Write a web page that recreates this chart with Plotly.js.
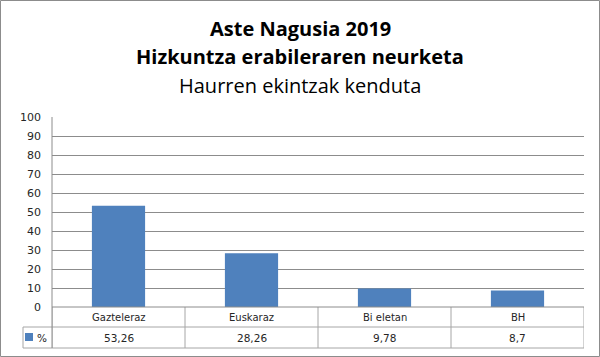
<!DOCTYPE html>
<html><head><meta charset="utf-8">
<script src="https://cdn.plot.ly/plotly-3.0.1.min.js"></script>
<style>html,body{margin:0;padding:0;background:#fff}#c{width:600px;height:357px}</style>
</head><body><div id="c"></div>
<script>
const categories = ["Gazteleraz", "Euskaraz", "Bi eletan", "BH"];
const values = [53.26, 28.26, 9.78, 8.7];
const valueLabels = ["53,26", "28,26", "9,78", "8,7"];
const seriesName = "%";
const titleLines = ["<b>Aste Nagusia 2019</b>", "<b>Hizkuntza erabileraren neurketa</b>", "Haurren ekintzak kenduta"];

const W = 600, H = 357;
const L = 52, R = 584, T = 117, B = 307;
const row1 = 327, row2 = 348, tableLeft = 23;
const lineCol = "#a6a6a6";
const font = "DejaVu Sans, Verdana, sans-serif";
const xs = categories.map((_, i) => i);

const shapes = [];
const py = y => (B - y) / (B - T), px = x => (x - L) / (R - L);
function seg(x0, y0, x1, y1, col) {
  shapes.push({type: "line", xref: "paper", yref: "paper", x0: px(x0), y0: py(y0), x1: px(x1), y1: py(y1), line: {color: col || lineCol, width: 1}});
}
// table lines
seg(tableLeft, row1, R, row1);
seg(tableLeft, row2, R, row2);
seg(tableLeft, row1, tableLeft, row2);
for (let i = 0; i <= categories.length; i++) {
  shapes.push({type: "line", xref: "x", yref: "paper", x0: i - 0.5, x1: i - 0.5, y0: py(row2), y1: py(B), line: {color: lineCol, width: 1}});
}
seg(L, T, L, row2, "#8c8c8c");
seg(L, B, R, B, "#8c8c8c");
// legend key
shapes.push({type: "rect", xref: "paper", yref: "paper", x0: px(25), x1: px(33), y0: py(341), y1: py(333), fillcolor: "#4f81bd", line: {width: 0}});

const annotations = [];
categories.forEach((c, i) => {
  annotations.push({x: i, xref: "x", y: py((B + row1) / 2), yref: "paper", text: c, showarrow: false, font: {family: font, size: 10, color: "#262626"}, xanchor: "center", yanchor: "middle"});
  annotations.push({x: i, xref: "x", y: py((row1 + row2) / 2), yref: "paper", text: valueLabels[i], showarrow: false, font: {family: font, size: 10.5, color: "#262626"}, xanchor: "center", yanchor: "middle"});
});
annotations.push({x: px(35), xref: "paper", y: py((row1 + row2) / 2), yref: "paper", text: seriesName, showarrow: false, font: {family: font, size: 10.5, color: "#262626"}, xanchor: "left", yanchor: "middle"});
const titleY = [29, 57, 86];
titleLines.forEach((t, i) => {
  annotations.push({x: 0.5 * (px(0) + px(W)), xref: "paper", y: py(titleY[i]), yref: "paper", text: t, showarrow: false, font: {family: "Open Sans, sans-serif", size: 20, color: "#000"}, xanchor: "center", yanchor: "middle"});
});
// outer border
shapes.push({type: "rect", xref: "paper", yref: "paper", x0: px(0.5), x1: px(599.5), y0: py(356.5), y1: py(0.5), line: {color: "#8c8c8c", width: 1}});

Plotly.newPlot("c", [{
  type: "bar", x: xs, y: values, name: seriesName,
  marker: {color: "#4f81bd"}, width: 0.4, hoverinfo: "skip"
}], {
  width: W, height: H,
  margin: {l: L, r: W - R, t: T, b: H - B, pad: 0},
  paper_bgcolor: "#fff", plot_bgcolor: "#fff",
  showlegend: false,
  xaxis: {range: [-0.5, categories.length - 0.5], showticklabels: false, showgrid: false, zeroline: false, showline: false, fixedrange: true},
  yaxis: {range: [0, 100], dtick: 10, showgrid: true, gridcolor: "#8c8c8c", gridwidth: 1, zeroline: false, showline: false,
    tickfont: {family: font, size: 11, color: "#262626"}, ticks: "", ticklabelstandoff: 10, fixedrange: true},
  shapes, annotations
}, {staticPlot: true});
</script></body></html>
